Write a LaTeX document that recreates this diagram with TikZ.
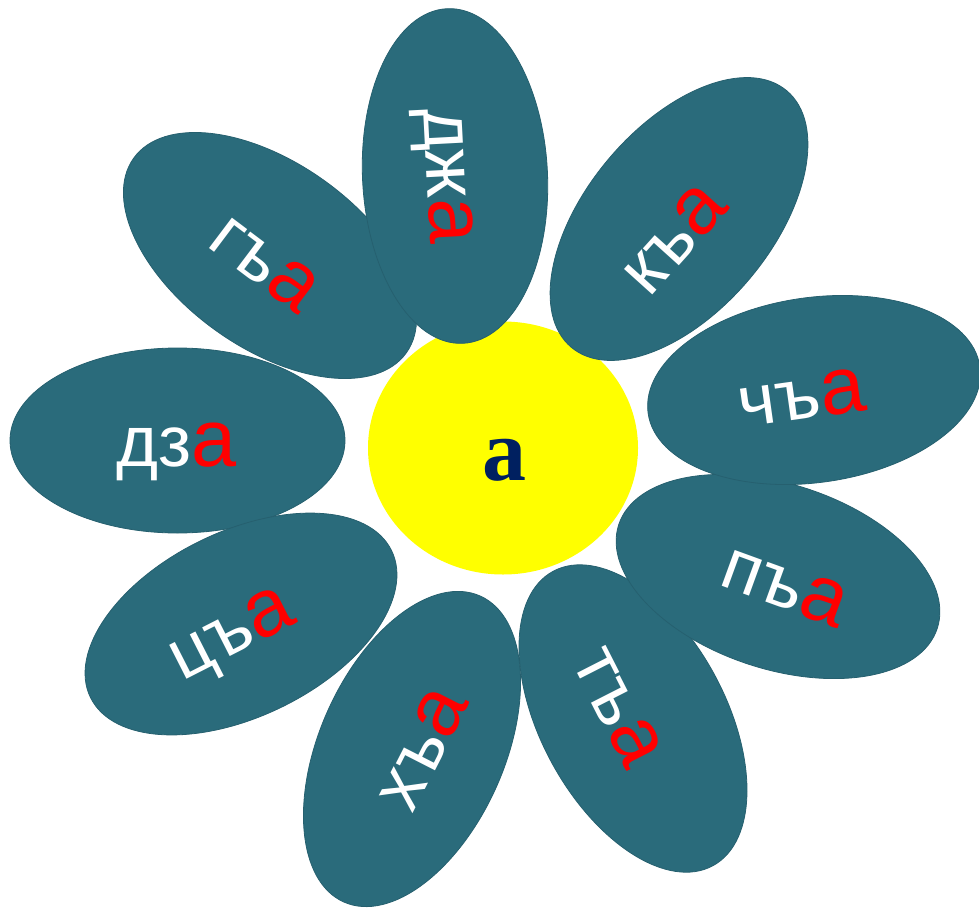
\documentclass[tikz,border=0pt]{standalone}
\usepackage{fontspec}
\setmainfont{Liberation Sans}
\newfontfamily\corefont{Liberation Serif}
\usepackage{tikz}
\usetikzlibrary{shapes.geometric}

\definecolor{petalteal}{RGB}{42,107,123}
\definecolor{corenavy}{RGB}{0,32,96}
\definecolor{coreyellow}{RGB}{255,255,0}

% syllable: white consonants, bigger red vowel
\newcommand{\slog}[1]{#1\textcolor{red}{\fontsize{81}{90}\selectfont а}}

\begin{document}
\begin{tikzpicture}[
    x=1pt, y=-1pt,
    petal/.style={ellipse, fill=petalteal, draw=petalteal!90!black,
        line width=0.8pt, minimum width=335pt, minimum height=185pt,
        inner sep=0pt},
    word/.style={text=white, inner sep=0pt,
        font=\fontsize{72}{80}\selectfont}
]
\useasboundingbox (0,0) rectangle (979,907);

% Centre
\node[ellipse, fill=coreyellow, minimum width=270pt, minimum height=253pt,
    inner sep=0pt] (core) at (503,448) {};
\node[text=corenavy, inner sep=0pt,
    font=\corefont\bfseries\fontsize{88}{96}\selectfont]
    (coreA) at (504,460) {а};

% Petals, clockwise from the left-top one
\node[petal, rotate=-35.5] (petalGa) at (270,255.5) {};
\node[word, rotate=-37] (wordGa) at (264.5,263.5) {\slog{гъ}};

\node[petal] (petalDza) at (177.5,440.5) {};
\node[word] (wordDza) at (176.5,451.5) {\slog{дз}};

\node[petal, rotate=26] (petalTsa) at (241,624) {};
\node[word, rotate=27] (wordTsa) at (234,638.5) {\slog{цъ}};

\node[petal, rotate=66] (petalHa) at (412,749) {};
\node[word, rotate=63] (wordHa) at (422.5,749) {\slog{хъ}};

\node[petal, rotate=-61.5] (petalTa) at (633,718.5) {};
\node[word, rotate=-63] (wordTa) at (618,707) {\slog{тъ}};

\node[petal, rotate=-18] (petalPa) at (778,576.5) {};
\node[word, rotate=-20] (wordPa) at (785,586.5) {\slog{пъ}};

\node[petal, rotate=8] (petalCha) at (814,390) {};
\node[word, rotate=8] (wordCha) at (802,397.5) {\slog{чъ}};

\node[petal, rotate=50] (petalKa) at (679,219) {};
\node[word, rotate=48] (wordKa) at (674,239) {\slog{къ}};

\node[petal, rotate=-87.3] (petalDzha) at (455,176) {};
\node[word, rotate=-87] (wordDzha) at (441.7,175.8) {\slog{дж}};

\end{tikzpicture}
\end{document}
